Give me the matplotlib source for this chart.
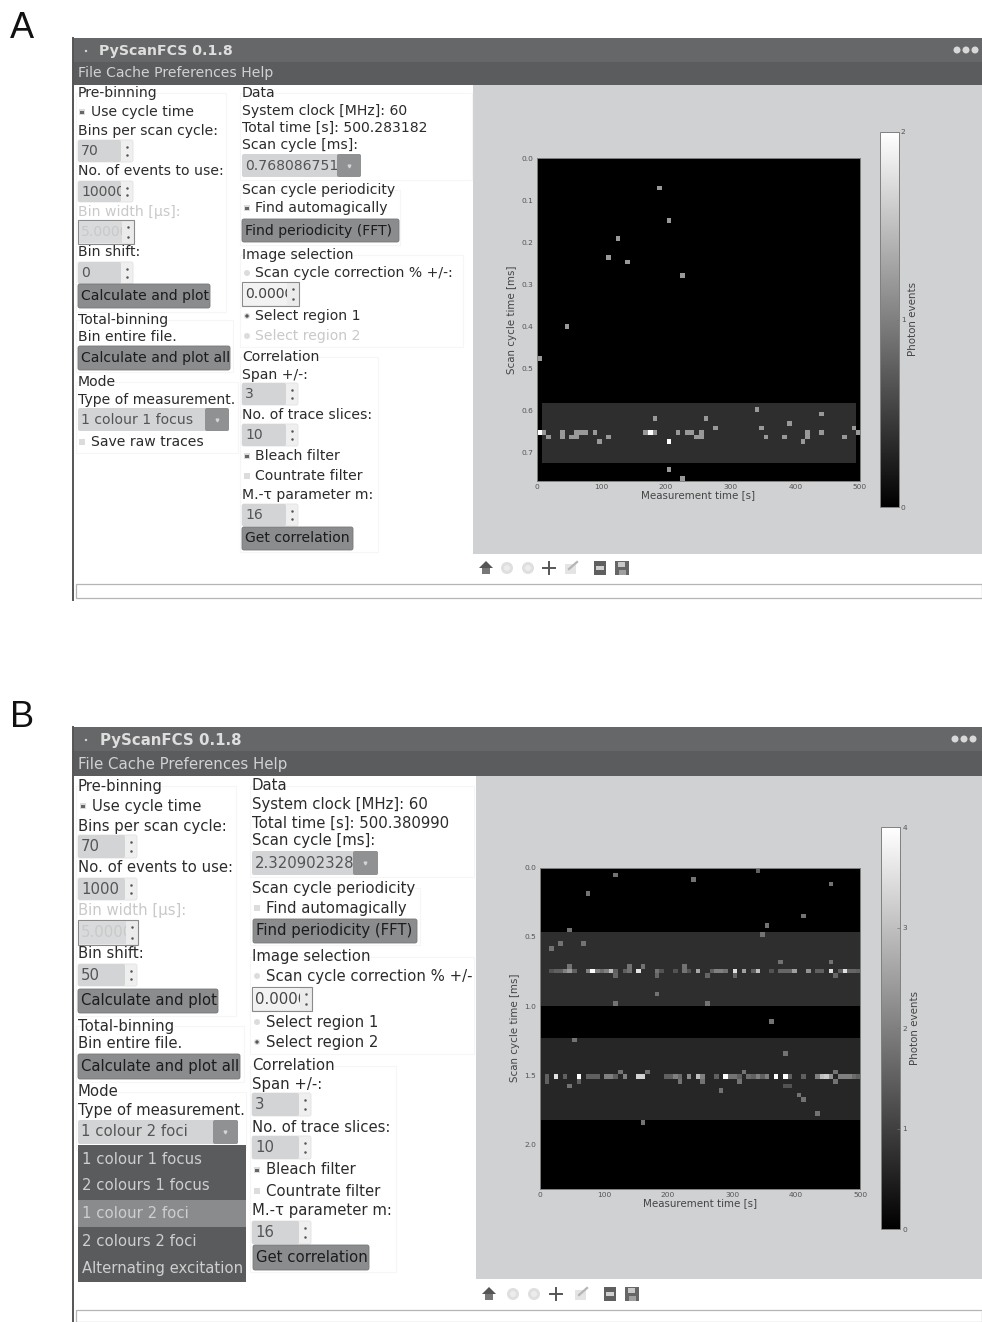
import matplotlib
matplotlib.use("Agg")
import matplotlib.pyplot as plt
import numpy as np
from matplotlib.patches import Rectangle, FancyBboxPatch, Circle, Polygon

W = 982
H = 1322

#%%
# Data: photon events per bin, (column, row, value)
n_bins = 70
time_ticks = [0, 100, 200, 300, 400, 500]

scan_a = 0.768
vmax_a = 2
yticks_a = [0.0, 0.1, 0.2, 0.3, 0.4, 0.5, 0.6, 0.7]
cticks_a = [0, 1, 2]
regions_a = [(53, 66, 1, 69, 0.36)]
points_a = [(26, 6, 1.2), (28, 13, 1.2), (17, 17, 1.2), (15, 21, 1.2), (19, 22, 1.2),
            (31, 25, 1.2), (6, 36, 1.2), (0, 43, 1.2), (47, 54, 1.2), (61, 55, 1.2),
            (25, 56, 1.2), (36, 56, 1.2), (54, 57, 1.2), (38, 58, 1.2), (48, 58, 1.2),
            (68, 58, 1.2), (13, 61, 1.2), (28, 61, 2), (57, 61, 1.2), (28, 67, 1.2),
            (31, 69, 1.2)]
row59_a = [(0, 2), (1, 1.2), (5, 1.2), (8, 1.2), (9, 1.2), (10, 1.2), (12, 1.2), (23, 1.2),
           (24, 2), (25, 1.2), (30, 1.2), (32, 1.2), (33, 1.2), (35, 1.2), (58, 1.2), (61, 1.2), (69, 1.2)]
row60_a = [(2, 1.2), (5, 1.2), (7, 1.2), (8, 1.2), (15, 1.2), (34, 1.2), (35, 1.2), (49, 1.2),
           (53, 1.2), (58, 1.2), (66, 1.2)]

scan_b = 2.32
vmax_b = 4
yticks_b = [0.0, 0.5, 1.0, 1.5, 2.0]
cticks_b = [0, 1, 2, 3, 4]
regions_b = [(14, 30, 0, 70, 0.72), (37, 55, 0, 70, 0.6)]
points_b = [(16, 1, 1.8), (47, 0, 1.5), (33, 2, 1.8), (63, 3, 1.8), (10, 5, 1.8), (57, 10, 1.8),
            (49, 12, 1.8), (6, 13, 1.8), (48, 14, 1.8), (2, 17, 1.8), (4, 16, 1.8), (9, 16, 1.8),
            (52, 20, 1.8), (63, 20, 1.8), (6, 21, 1.8), (19, 21, 1.8), (22, 21, 1.8), (31, 21, 1.8),
            (16, 23, 1.6), (25, 23, 1.6), (36, 23, 1.6), (42, 23, 1.6), (64, 23, 1.6),
            (25, 27, 1.8), (16, 29, 1.8), (36, 29, 1.8), (50, 33, 1.8), (7, 37, 1.8), (53, 40, 1.8),
            (17, 44, 1.8), (23, 44, 1.8), (44, 44, 1.8), (64, 44, 1.8), (1, 46, 1.5), (8, 46, 1.5),
            (30, 46, 1.8), (35, 46, 1.8), (43, 46, 1.8), (64, 46, 1.8), (6, 47, 1.8), (53, 47, 1.3),
            (54, 47, 1.3), (39, 48, 1.8), (56, 49, 1.8), (57, 50, 1.8), (60, 53, 1.8), (22, 55, 1.8)]
row22_b = [(2, 1.3), (3, 1.5), (4, 1.5), (5, 2), (6, 2.4), (7, 1.5), (10, 2), (11, 4), (12, 2),
           (13, 1.7), (14, 2), (15, 3), (16, 1.5), (18, 1.5), (19, 1.8), (21, 3.6), (25, 1.8),
           (26, 1.3), (29, 1.3), (31, 1.8), (32, 1.3), (34, 2.6), (37, 1.5), (38, 2), (39, 2),
           (40, 1.8), (42, 3.5), (44, 2.5), (46, 1.5), (47, 3), (50, 1.3), (52, 1.6), (53, 1.6),
           (54, 1.6), (55, 2.5), (58, 2.3), (60, 1.5), (61, 1.5), (63, 3.5), (65, 1.5), (66, 3.5),
           (67, 1.6), (68, 1.6), (69, 1.5)]
row45_b = [(1, 1.5), (3, 3.5), (5, 1.5), (8, 4), (10, 1.5), (11, 1.5), (12, 1.5), (14, 2), (15, 2),
           (16, 1.5), (18, 2), (21, 3.3), (22, 3.3), (27, 1.5), (28, 1.5), (29, 2), (30, 1.7),
           (32, 2.2), (34, 3), (35, 2), (38, 1.5), (40, 4), (41, 1.8), (42, 1.8), (43, 1.5),
           (45, 1.7), (46, 1.5), (47, 2), (48, 1.5), (49, 2), (51, 4), (53, 4), (54, 1.5), (57, 1.5),
           (60, 2), (61, 3), (62, 3.2), (63, 2.3), (65, 2), (66, 2), (67, 2), (68, 1.7), (69, 1.5)]

#%%
# Window text
titles = ["PyScanFCS 0.1.8", "PyScanFCS 0.1.8"]
menu = "File Cache Preferences Help"
combo_modes = ["1 colour 1 focus", "2 colours 1 focus", "1 colour 2 foci", "2 colours 2 foci",
               "Alternating excitation"]

TEXT = "#2b2b2b"
FAINT = "#c9c9c9"
FIELD = "#d3d4d6"
BUTTON = "#8b8c8e"
ARROW = "#909193"
PANEL = "#d0d1d3"


def px_axes(x0, y0, x1, y1):
    return [x0 / W, 1 - y1 / H, (x1 - x0) / W, (y1 - y0) / H]


fig = plt.figure(figsize=(W / 100, H / 100), dpi=100, facecolor="white")
gui = fig.add_axes([0, 0, 1, 1], zorder=0)
gui.set_xlim(0, W)
gui.set_ylim(H, 0)
gui.axis("off")


def rect(x0, y0, x1, y1, color, ec="none", lw=0, z=1):
    r = Rectangle((x0, y0), x1 - x0, y1 - y0, fc=color, ec=ec, lw=lw, zorder=z)
    gui.add_patch(r)
    return r


def rbox(x0, y0, x1, y1, color, ec="none", z=2):
    r = FancyBboxPatch((x0 + 2, y0 + 2), x1 - x0 - 4, y1 - y0 - 4, boxstyle="round,pad=2",
                       fc=color, ec=ec, lw=0.6, zorder=z)
    gui.add_patch(r)


def label(x, y, s, color=TEXT, size=10.1, **kw):
    return gui.text(x, y, s, color=color, fontsize=size, va="center", ha="left", zorder=5, **kw)


def clipped(x0, y0, x1, y1, s, color, size):
    box = rect(x0 + 1, y0, x1, y1, "none", z=0)
    t = label(x0 + 3, (y0 + y1) / 2, s, color=color, size=size)
    t.set_clip_on(True)
    t.set_clip_path(box)


def spin(x0, y0, x1, y1, s, size, color="#555555", disabled=False, boxed=False):
    split = x1 - 12
    if disabled or boxed:
        rect(x0, y0, x1, y1, "#ebebeb", ec="#8a8a8a", lw=0.8, z=2)
        rect(x0 + 1, y0 + 1, split, y1 - 1, "#d9dadb" if disabled else "#f2f2f2", z=2)
    else:
        rbox(x0, y0, x1, y1, "#efefef", ec="#e2e2e2")
        rbox(x0, y0, split, y1, FIELD)
    clipped(x0, y0, split, y1, s, FAINT if disabled else color, size)
    gui.plot([split + 6, split + 6], [y0 + 7, y1 - 7], ls="none", marker=".", ms=1.6, color="#555555", zorder=4)


def combo(x0, y0, x1, y1, arrow_x, s, size):
    rbox(x0, y0, x1, y1, FIELD)
    rbox(arrow_x, y0, x1, y1, ARROW)
    clipped(x0, y0, arrow_x, y1, s, "#555555", size)
    gui.plot([(arrow_x + x1) / 2], [(y0 + y1) / 2], ls="none", marker="v", ms=2, color="#d5d5d5", zorder=4)


def button(x0, y0, x1, y1, s, size):
    rbox(x0, y0, x1, y1, BUTTON, ec="#777777")
    label(x0 + 3, (y0 + y1) / 2, s, color="#1c1c1c", size=size)


def check(x, y, on, radio=False):
    if radio:
        gui.add_patch(Circle((x, y), 3, fc="#dcdcdc", ec="none", zorder=3))
        if on:
            gui.add_patch(Circle((x, y), 1.7, fc="#555555", ec="none", zorder=4))
    else:
        rect(x - 3, y - 3, x + 3, y + 3, "#dcdcdc", z=3)
        if on:
            rect(x - 2, y - 1.5, x + 2, y + 1.5, "#666666", z=4)


def toolbar(xs, y):
    home, back, forward, move, zoom, sub, save = xs
    gui.add_patch(Polygon([(home - 7, y), (home, y - 7), (home + 7, y)], fc="#555555", zorder=3))
    rect(home - 4, y, home + 4, y + 6, "#777777", z=3)
    for cx in (back, forward):
        gui.add_patch(Circle((cx, y), 6, fc="#dfdfdf", ec="none", zorder=3))
        gui.add_patch(Circle((cx, y), 3, fc="#ececec", ec="none", zorder=3))
    gui.plot([move - 6, move + 6], [y, y], color="#555555", lw=1.4, zorder=3)
    gui.plot([move, move], [y - 6, y + 6], color="#555555", lw=1.4, zorder=3)
    rect(zoom - 6, y - 4, zoom + 5, y + 6, "#e4e4e4", z=3)
    gui.plot([zoom - 2, zoom + 6], [y + 1, y - 6], color="#b5b5b5", lw=1.6, zorder=4)
    rect(sub - 6, y - 7, sub + 6, y + 7, "#5f5f5f", z=3)
    rect(sub - 4, y - 2, sub + 4, y + 2, "#d0d0d0", z=4)
    rect(save - 7, y - 7, save + 7, y + 7, "#666666", z=3)
    rect(save - 4, y - 6, save + 3, y - 1, "#c8c8c8", z=4)
    rect(save - 3, y + 2, save + 4, y + 7, "#a0a0a0", z=4)


def window(top, bar_end, bottom_status, frame_bottom, panel_x, panel_bottom, title, title_x,
           title_size, menu_y, menu_size, dots_x):
    rect(73, top, W, frame_bottom, "white", z=0.5)
    gui.plot([73.5, 73.5], [top, frame_bottom], color="#555555", lw=1.4, zorder=6)
    rect(73, top, W, top + 24, "#666769", z=1)
    rect(73, top + 24, W, bar_end, "#5b5c5e", z=1)
    label(title_x, top + 13.5, title, color="#dedede", size=title_size, fontweight="bold")
    gui.add_patch(Circle((86, top + 13), 1.2, fc="#d8d8d8", zorder=3))
    for dx in dots_x:
        gui.add_patch(Circle((dx, top + 12), 3.5, fc="#d8d8d8", zorder=3))
    label(78, menu_y, menu, color="#d2d2d2", size=menu_size)
    rect(panel_x, bar_end, W, panel_bottom, PANEL, z=1)
    rect(76, bottom_status, W, frame_bottom - 2, "white", ec="#b5b5b5", lw=0.9, z=1)


def frame(x0, y0, x1, y1):
    rect(x0, y0, x1, y1, "none", ec="#f6f6f6", lw=0.8, z=1.2)


#%%
# Panel A
gui.text(10, 38, "A", fontsize=26, family="Liberation Sans", color="#111111", va="baseline", ha="left")
window(38, 85, 584, 600, 473, 554, titles[0], 99, 10.2, 73, 10.1, [957, 966, 975])
for x0, y0, x1, y1 in [(76, 93, 226, 312), (76, 320, 233, 372), (76, 382, 238, 453), (240, 93, 472, 180),
                       (240, 190, 400, 245), (240, 255, 463, 347), (240, 357, 378, 552)]:
    frame(x0, y0, x1, y1)

s = 10.1
for y, t in [(93, "Pre-binning"), (131, "Bins per scan cycle:"), (171, "No. of events to use:"),
             (252, "Bin shift:"), (320, "Total-binning"), (337, "Bin entire file."),
             (382, "Mode"), (400, "Type of measurement.")]:
    label(78, y, t, size=s)
label(78, 212, "Bin width [µs]:", color=FAINT, size=s)
label(91, 112, "Use cycle time", size=s)
check(82, 112, True)
label(91, 442, "Save raw traces", size=s)
check(82, 442, False)
spin(78, 140, 133, 162, "70", s)
spin(78, 181, 133, 202, "1000000", s)
spin(78, 220, 134, 244, "5.000000", s, disabled=True)
spin(78, 262, 133, 284, "0", s)
button(78, 284, 210, 308, "Calculate and plot", s)
button(78, 346, 230, 370, "Calculate and plot all", s)
combo(78, 408, 229, 431, 205, combo_modes[0], s)

for y, t in [(93, "Data"), (111, "System clock [MHz]: 60"), (128, "Total time [s]: 500.283182"),
             (145, "Scan cycle [ms]:"), (190, "Scan cycle periodicity"), (255, "Image selection"),
             (357, "Correlation"), (375, "Span +/-:"), (415, "No. of trace slices:"),
             (495, "M.-τ parameter m:")]:
    label(242, y, t, size=s)
combo(242, 154, 361, 177, 337, "0.768086751", s)
label(255, 208, "Find automagically", size=s)
check(247, 208, True)
button(242, 219, 399, 242, "Find periodicity (FFT)", s)
label(255, 273, "Scan cycle correction % +/-:", size=s)
check(247, 273, False, radio=True)
spin(242, 282, 299, 306, "0.000000", s, color="#444444", boxed=True)
label(255, 316, "Select region 1", size=s)
check(247, 316, True, radio=True)
label(255, 336, "Select region 2", color=FAINT, size=s)
check(247, 336, False, radio=True)
spin(242, 383, 298, 405, "3", s)
spin(242, 424, 298, 446, "10", s)
label(255, 456, "Bleach filter", size=s)
check(247, 456, True)
label(255, 476, "Countrate filter", size=s)
check(247, 476, False)
spin(242, 504, 298, 526, "16", s)
button(242, 527, 353, 550, "Get correlation", s)
toolbar([486, 507, 528, 549, 571, 600, 622], 568)

#%%
# Panel B
gui.text(10, 727, "B", fontsize=26, family="Liberation Sans", color="#111111", va="baseline", ha="left")
window(727, 776, 1310, 1324, 476, 1279, titles[1], 100, 10.8, 765, 10.8, [955, 964, 973])
for x0, y0, x1, y1 in [(76, 786, 236, 1016), (76, 1026, 244, 1082), (76, 1092, 246, 1150), (250, 786, 474, 877),
                       (250, 888, 420, 945), (250, 957, 474, 1054), (250, 1066, 396, 1272)]:
    frame(x0, y0, x1, y1)

s = 10.7
for y, t in [(786, "Pre-binning"), (826, "Bins per scan cycle:"), (868, "No. of events to use:"),
             (954, "Bin shift:"), (1026, "Total-binning"), (1044, "Bin entire file."),
             (1092, "Mode"), (1110, "Type of measurement.")]:
    label(78, y, t, size=s)
label(78, 911, "Bin width [µs]:", color=FAINT, size=s)
label(92, 806, "Use cycle time", size=s)
check(83, 806, True)
spin(78, 835, 137, 858, "70", s)
spin(78, 878, 137, 900, "1000", s)
spin(78, 920, 138, 945, "5.000000", s, disabled=True)
spin(78, 964, 137, 986, "50", s)
button(78, 989, 218, 1013, "Calculate and plot", s)
button(78, 1054, 240, 1079, "Calculate and plot all", s)
combo(78, 1120, 238, 1144, 213, combo_modes[2], s)
rect(78, 1145, 246, 1282, "#5a5b5d", z=2)
rect(78, 1200, 246, 1227, "#8a8b8d", z=2.5)
for y, t in zip([1159, 1186, 1213, 1241, 1268], combo_modes):
    label(82, y, t, color="#cfcfcf", size=s)

for y, t in [(786, "Data"), (804, "System clock [MHz]: 60"), (823, "Total time [s]: 500.380990"),
             (841, "Scan cycle [ms]:"), (888, "Scan cycle periodicity"), (957, "Image selection"),
             (1066, "Correlation"), (1084, "Span +/-:"), (1127, "No. of trace slices:"),
             (1211, "M.-τ parameter m:")]:
    label(252, y, t, size=s)
combo(252, 851, 378, 875, 353, "2.320902328", s)
label(266, 908, "Find automagically", size=s)
check(257, 908, False)
button(253, 919, 417, 943, "Find periodicity (FFT)", s)
label(266, 976, "Scan cycle correction % +/-", size=s)
check(257, 976, False, radio=True)
spin(252, 987, 312, 1011, "0.000000", s, color="#444444", boxed=True)
label(266, 1022, "Select region 1", size=s)
check(257, 1022, False, radio=True)
label(266, 1042, "Select region 2", size=s)
check(257, 1042, True, radio=True)
spin(252, 1093, 311, 1116, "3", s)
spin(252, 1136, 311, 1159, "10", s)
label(266, 1170, "Bleach filter", size=s)
check(257, 1170, True)
label(266, 1191, "Countrate filter", size=s)
check(257, 1191, False)
spin(252, 1221, 311, 1244, "16", s)
button(253, 1245, 369, 1270, "Get correlation", s)
toolbar([489, 513, 534, 556, 581, 610, 632], 1294)


#%%
# Heatmaps
def make_grid(regions, points, rows):
    grid = np.zeros((n_bins, n_bins))
    for r0, r1, c0, c1, level in regions:
        grid[r0:r1, c0:c1] = level
    for c, r, v in points:
        grid[r, c] = v
    for r, row in rows.items():
        for c, v in row:
            grid[r, c] = v
    return grid


def heatmap(grid, scan, vmax, yticks, cticks, ax_box, cbar_box):
    ax = fig.add_axes(px_axes(*ax_box), zorder=3)
    im = ax.imshow(grid, cmap="gray", vmin=0, vmax=vmax, aspect="auto", interpolation="nearest",
                   extent=(0, 500, scan, 0))
    ax.set_xticks(time_ticks)
    ax.set_yticks(yticks)
    ax.tick_params(length=0, labelsize=5.4, labelcolor="#555555", pad=2.5)
    ax.set_xlabel("Measurement time [s]", fontsize=7.4, color="#444444", labelpad=0)
    ax.set_ylabel("Scan cycle time [ms]", fontsize=7.4, color="#444444", labelpad=3)
    for sp in ax.spines.values():
        sp.set_color("#808080")
        sp.set_linewidth(0.7)
    cax = fig.add_axes(px_axes(*cbar_box), zorder=3)
    cb = fig.colorbar(im, cax=cax, ticks=cticks)
    cb.ax.tick_params(length=2, width=0.5, direction="in", labelsize=5.4, labelcolor="#555555",
                      color="#777777", pad=1.5)
    cb.set_label("Photon events", fontsize=7.4, color="#444444", labelpad=2)
    cb.outline.set_edgecolor("#808080")
    cb.outline.set_linewidth(0.7)


grid_a = make_grid(regions_a, points_a, {59: row59_a, 60: row60_a})
heatmap(grid_a, scan_a, vmax_a, yticks_a, cticks_a, (536.7, 158.3, 860, 480.7), (880, 131.7, 898.7, 507.3))

grid_b = make_grid(regions_b, points_b, {22: row22_b, 45: row45_b})
heatmap(grid_b, scan_b, vmax_b, yticks_b, cticks_b, (539.7, 867.7, 860.3, 1188.7), (880.7, 827.3, 900.3, 1229.3))

plt.savefig("out.png", dpi=100)
